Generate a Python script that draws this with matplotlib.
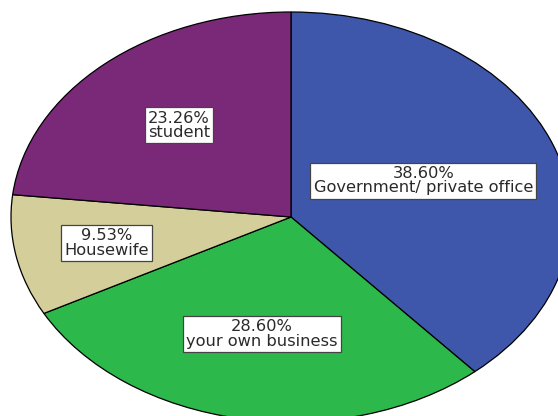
import numpy as np
import matplotlib
matplotlib.use("Agg")
import matplotlib.pyplot as plt

categories = ["Government/ private office", "your own business", "Housewife", "student"]
percentages = [38.60, 28.60, 9.53, 23.26]
colors = ["#3E57AB", "#2DB84B", "#D4CE9A", "#7A2878"]
# radial position of each label box, as a fraction of the radius
label_radius = [0.505, 0.58, 0.67, 0.60]

W, H = 558, 416
fig = plt.figure(figsize=(W / 100, H / 100), dpi=100)
fig.patch.set_facecolor("white")

# ellipse: centre (291, 217) px, radii 280 x 205 px
cx, cy, rx, ry = 291, 217, 280, 205
ax = fig.add_axes([(cx - rx) / W, (H - cy - ry) / H, 2 * rx / W, 2 * ry / H])
ax.axis("off")

wedges, _ = ax.pie(
    percentages,
    colors=colors,
    startangle=90,
    counterclock=False,
    radius=1.0,
    wedgeprops=dict(edgecolor="black", linewidth=0.9),
)
ax.set_xlim(-1, 1)
ax.set_ylim(-1, 1)
ax.set_aspect("auto")

for w, name, pct, r in zip(wedges, categories, percentages, label_radius):
    mid = np.deg2rad((w.theta1 + w.theta2) / 2)
    x, y = r * np.cos(mid), r * np.sin(mid)
    ax.text(
        x, y, f"{pct:.2f}%\n{name}",
        ha="center", va="center",
        fontsize=11.7, family="DejaVu Sans", color="#2a2a2a",
        linespacing=0.95,
        bbox=dict(boxstyle="square,pad=0.2", facecolor="white",
                  edgecolor="#444444", linewidth=0.9),
    )

fig.savefig("out.png", dpi=100)
